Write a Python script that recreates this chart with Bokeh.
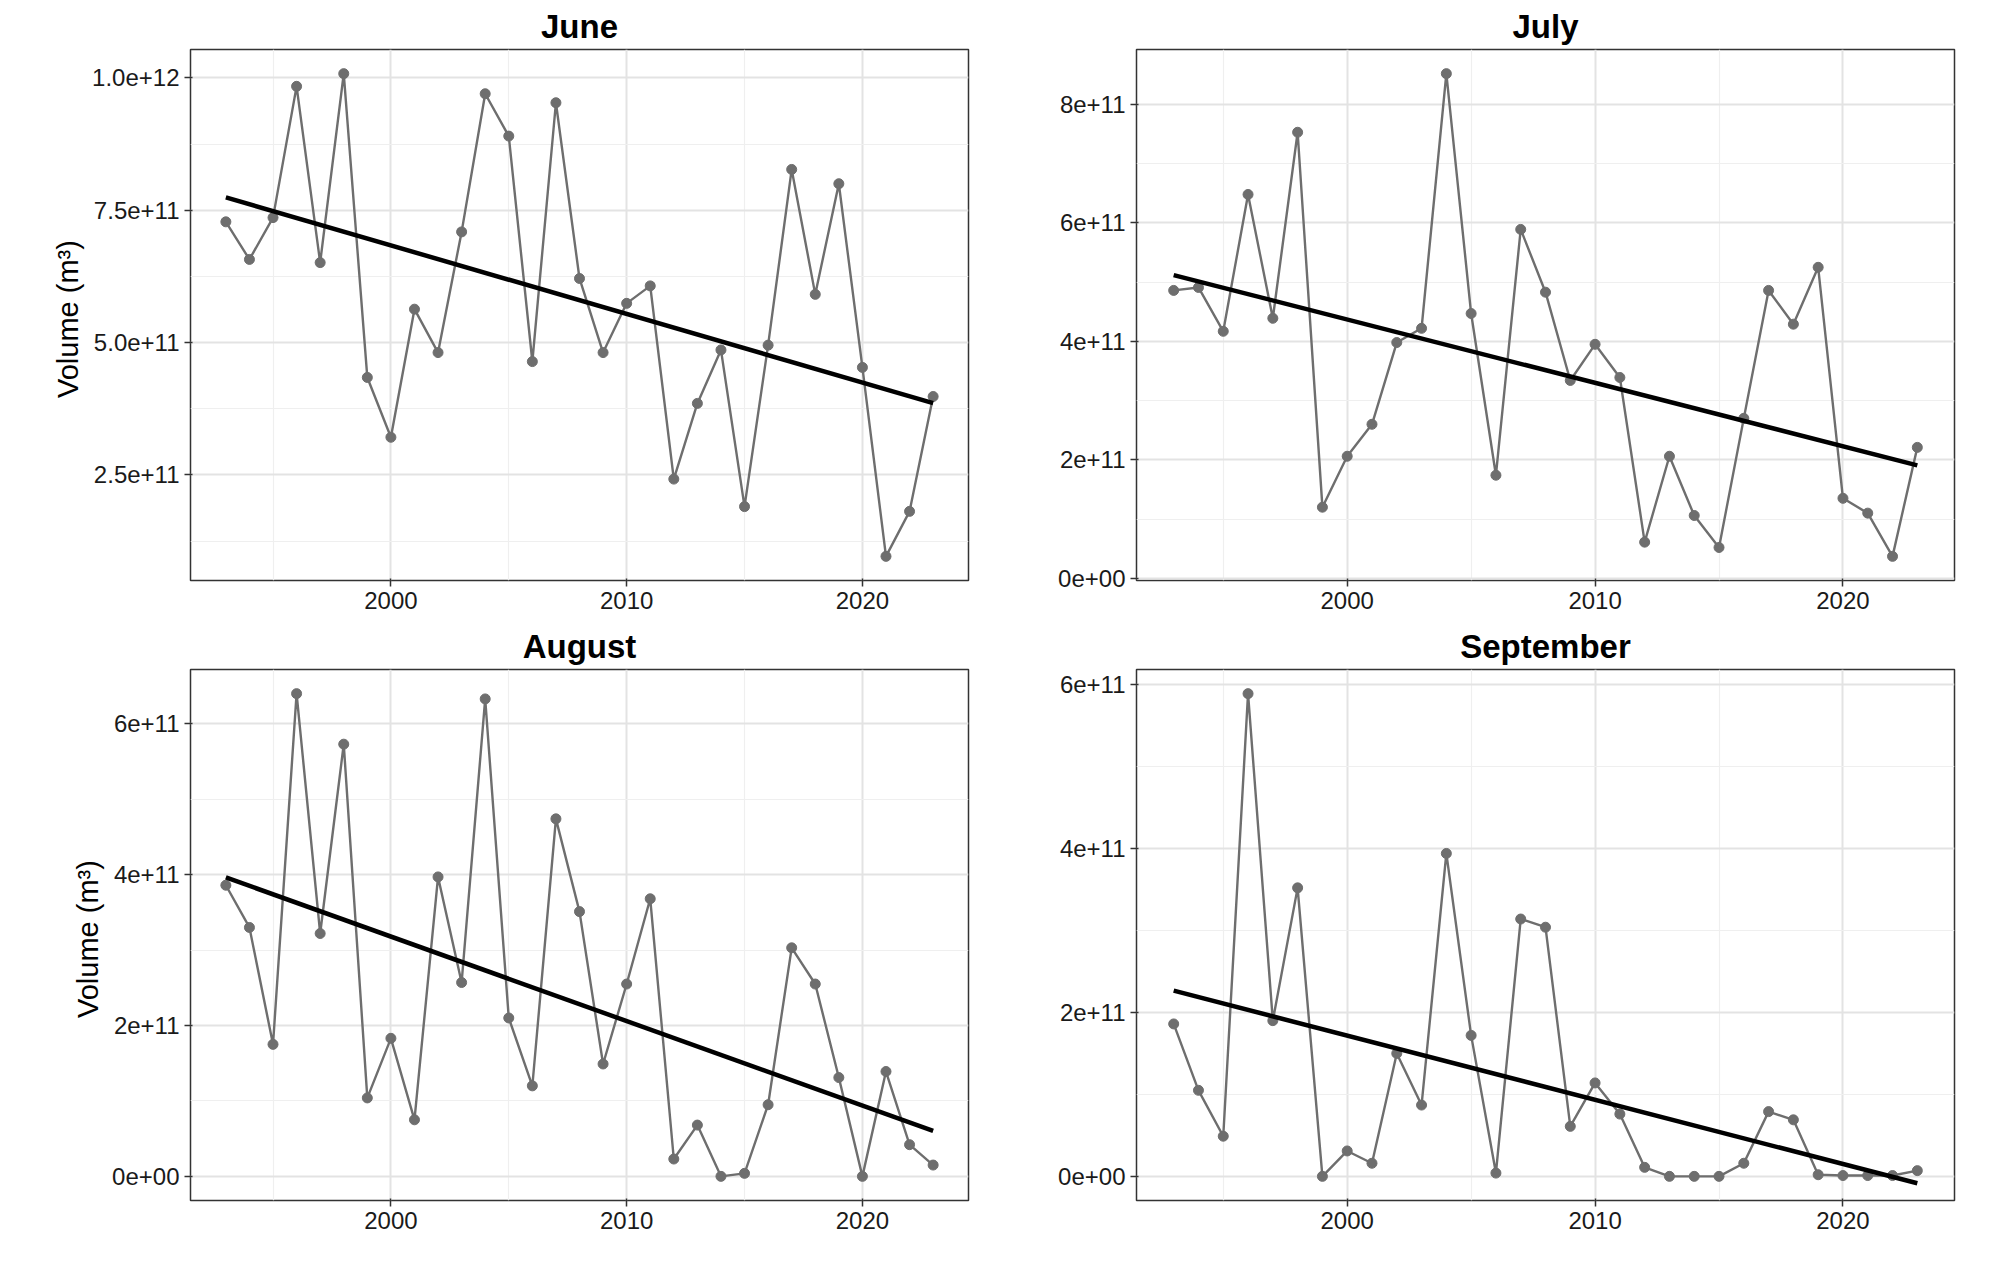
import numpy as np
from bokeh.plotting import figure
from bokeh.layouts import gridplot
from bokeh.models import FixedTicker, Range1d
from bokeh.embed import file_html
from bokeh.resources import INLINE

years = list(range(1993, 2024))

june = [7.28e11, 6.57e11, 7.36e11, 9.84e11, 6.51e11, 1.008e12, 4.34e11, 3.21e11, 5.63e11, 4.81e11,
        7.09e11, 9.70e11, 8.90e11, 4.64e11, 9.53e11, 6.21e11, 4.81e11, 5.74e11, 6.07e11, 2.42e11,
        3.85e11, 4.86e11, 1.90e11, 4.95e11, 8.27e11, 5.91e11, 8.00e11, 4.53e11, 0.96e11, 1.81e11, 3.98e11]
july = [4.86e11, 4.91e11, 4.17e11, 6.48e11, 4.39e11, 7.53e11, 1.20e11, 2.06e11, 2.60e11, 3.98e11,
        4.22e11, 8.52e11, 4.47e11, 1.74e11, 5.89e11, 4.83e11, 3.34e11, 3.95e11, 3.39e11, 0.61e11,
        2.06e11, 1.06e11, 0.52e11, 2.70e11, 4.86e11, 4.29e11, 5.25e11, 1.35e11, 1.10e11, 0.37e11, 2.21e11]
august = [3.86e11, 3.30e11, 1.75e11, 6.40e11, 3.22e11, 5.73e11, 1.04e11, 1.83e11, 0.75e11, 3.97e11,
          2.57e11, 6.33e11, 2.10e11, 1.20e11, 4.74e11, 3.51e11, 1.49e11, 2.55e11, 3.68e11, 0.23e11,
          0.68e11, 0.0, 0.04e11, 0.95e11, 3.03e11, 2.55e11, 1.31e11, 0.0, 1.39e11, 0.42e11, 0.15e11]
september = [1.86e11, 1.05e11, 0.49e11, 5.89e11, 1.90e11, 3.52e11, 0.0, 0.31e11, 0.16e11, 1.50e11,
             0.87e11, 3.94e11, 1.72e11, 0.04e11, 3.14e11, 3.04e11, 0.61e11, 1.14e11, 0.76e11, 0.11e11,
             0.0, 0.0, 0.0, 0.16e11, 0.79e11, 0.69e11, 0.02e11, 0.01e11, 0.01e11, 0.01e11, 0.07e11]

june_ticks = [2.5e11, 5.0e11, 7.5e11, 1.0e12]
june_labels = ["2.5e+11", "5.0e+11", "7.5e+11", "1.0e+12"]
july_ticks = [0, 2e11, 4e11, 6e11, 8e11]
july_labels = ["0e+00", "2e+11", "4e+11", "6e+11", "8e+11"]
aug_ticks = [0, 2e11, 4e11, 6e11]
aug_labels = ["0e+00", "2e+11", "4e+11", "6e+11"]
sep_ticks = [0, 2e11, 4e11, 6e11]
sep_labels = ["0e+00", "2e+11", "4e+11", "6e+11"]

FONT = "Liberation Sans"


def panel(title, vals, ticks, labels, ylab):
    lo, hi = min(vals), max(vals)
    pad = (hi - lo) * 0.05
    p = figure(width=986, height=620, output_backend="svg", toolbar_location=None,
               x_range=Range1d(1991.5, 2024.5), y_range=Range1d(lo - pad, hi + pad),
               min_border_left=190 if ylab else 150, min_border_right=18,
               min_border_top=20, min_border_bottom=40)
    p.title.text = title
    p.title.align = "center"
    p.title.text_font = FONT
    p.title.text_font_size = "33px"
    p.title.text_font_style = "bold"
    p.title.text_color = "black"
    p.outline_line_color = "#333333"
    p.outline_line_width = 1.5
    step = ticks[1] - ticks[0]
    minor = [t - step / 2 for t in ticks] + [ticks[-1] + step / 2]
    p.yaxis.ticker = FixedTicker(ticks=ticks, minor_ticks=minor)
    p.xaxis.ticker = FixedTicker(ticks=[2000, 2010, 2020], minor_ticks=[1995, 2005, 2015])
    p.yaxis.major_label_overrides = {t: l for t, l in zip(ticks, labels)}
    for ax in (p.xaxis, p.yaxis):
        ax.axis_line_color = None
        ax.major_tick_line_color = "#333333"
        ax.major_tick_line_width = 1.5
        ax.minor_tick_line_color = None
        ax.major_label_text_font = FONT
        ax.major_label_text_font_size = "24px"
        ax.major_label_text_color = "#1a1a1a"
    for g in (p.xgrid, p.ygrid):
        g.grid_line_color = "#e3e3e3"
        g.grid_line_width = 2
        g.minor_grid_line_color = "#efefef"
        g.minor_grid_line_width = 1.2
    if ylab:
        p.yaxis.axis_label = "Volume  (m\u00b3)"
        p.yaxis.axis_label_text_font = FONT
        p.yaxis.axis_label_text_font_size = "29px"
        p.yaxis.axis_label_text_font_style = "normal"
        p.yaxis.axis_label_text_color = "black"
    p.line(years, vals, color="#6e6e6e", line_width=2.4)
    p.scatter(years, vals, color="#6e6e6e", size=10)
    b, a = np.polyfit(years, vals, 1)
    fit_x = [years[0], years[-1]]
    p.line(fit_x, [a + b * x for x in fit_x], color="black", line_width=4.5)
    return p


p = gridplot([[panel("June", june, june_ticks, june_labels, True),
               panel("July", july, july_ticks, july_labels, False)],
              [panel("August", august, aug_ticks, aug_labels, True),
               panel("September", september, sep_ticks, sep_labels, False)]],
             toolbar_location=None)

open("out.html", "w").write(file_html(p, INLINE))
